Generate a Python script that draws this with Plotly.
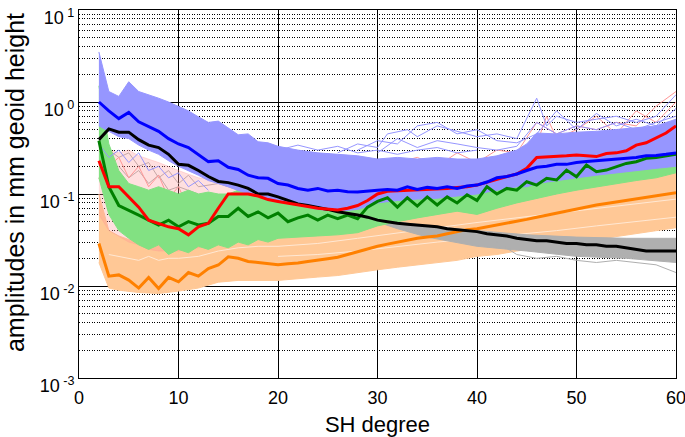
import plotly.graph_objects as go

deg = list(range(2, 61))

blue_mean = [1.0, 0.8, 0.66, 0.77, 0.61, 0.54, 0.48, 0.40, 0.35, 0.32, 0.27, 0.225, 0.23, 0.195, 0.185, 0.16,
             0.15, 0.148, 0.13, 0.125, 0.115, 0.11, 0.115, 0.108, 0.11, 0.106, 0.105, 0.108, 0.11, 0.112, 0.11,
             0.12, 0.112, 0.118, 0.115, 0.12, 0.115, 0.122, 0.125, 0.135, 0.15, 0.155, 0.165, 0.18, 0.195, 0.2,
             0.21, 0.21, 0.22, 0.225, 0.23, 0.232, 0.24, 0.245, 0.25, 0.26, 0.262, 0.27, 0.28]
red_mean = [0.23, 0.12, 0.12, 0.093, 0.072, 0.052, 0.048, 0.044, 0.042, 0.036, 0.044, 0.048, 0.07, 0.1, 0.1,
            0.1, 0.095, 0.087, 0.083, 0.08, 0.077, 0.073, 0.07, 0.068, 0.067, 0.07, 0.075, 0.085, 0.1, 0.107,
            0.108, 0.11, 0.11, 0.113, 0.112, 0.115, 0.118, 0.12, 0.125, 0.135, 0.145, 0.155, 0.165, 0.19, 0.25,
            0.252, 0.255, 0.26, 0.265, 0.26, 0.255, 0.275, 0.28, 0.295, 0.34, 0.36, 0.41, 0.46, 0.55]
green_mean = [0.38, 0.12, 0.075, 0.067, 0.059, 0.052, 0.046, 0.052, 0.044, 0.05, 0.046, 0.048, 0.057, 0.057,
              0.07, 0.057, 0.064, 0.055, 0.062, 0.05, 0.055, 0.059, 0.052, 0.059, 0.054, 0.059, 0.054, 0.072,
              0.083, 0.091, 0.072, 0.091, 0.074, 0.093, 0.076, 0.093, 0.08, 0.098, 0.085, 0.12, 0.1, 0.115,
              0.11, 0.136, 0.125, 0.148, 0.142, 0.182, 0.154, 0.207, 0.175, 0.182, 0.198, 0.215, 0.224, 0.244,
              0.25, 0.26, 0.27]
black_mean = [0.39, 0.51, 0.47, 0.47, 0.39, 0.34, 0.32, 0.27, 0.21, 0.205, 0.18, 0.155, 0.137, 0.133, 0.125,
              0.115, 0.1, 0.1, 0.093, 0.085, 0.078, 0.075, 0.072, 0.068, 0.064, 0.062, 0.059, 0.056, 0.052,
              0.05, 0.048, 0.047, 0.046, 0.045, 0.044, 0.042, 0.041, 0.04, 0.039, 0.037, 0.036, 0.035, 0.033,
              0.032, 0.031, 0.031, 0.03, 0.029, 0.029, 0.028, 0.028, 0.027, 0.027, 0.026, 0.025, 0.024, 0.024,
              0.024, 0.024]
orange_mean = [0.029, 0.0128, 0.0132, 0.0116, 0.0095, 0.0124, 0.0094, 0.0124, 0.0111, 0.014, 0.0128, 0.0155,
               0.0169, 0.0208, 0.02, 0.0185, 0.018, 0.0175, 0.017, 0.0175, 0.0178, 0.0185, 0.019, 0.0198,
               0.0205, 0.022, 0.0235, 0.025, 0.027, 0.0285, 0.03, 0.031, 0.033, 0.034, 0.035, 0.037, 0.039,
               0.041, 0.042, 0.044, 0.046, 0.048, 0.05, 0.053, 0.056, 0.059, 0.062, 0.066, 0.069, 0.072, 0.076,
               0.079, 0.082, 0.085, 0.089, 0.092, 0.096, 0.1, 0.103]

# ensemble envelopes
blue_bx = [2, 3, 4, 5, 6, 7, 8, 9, 10, 11, 12, 13, 14, 15, 16, 17, 18, 19, 20, 22, 24, 26, 28, 30, 32, 34,
           36, 38, 40, 42, 44, 45, 46, 48, 50, 52, 54, 56, 58, 60]
blue_up = [3.5, 1.3, 1.15, 1.66, 1.3, 1.2, 1.1, 1.0, 0.9, 0.8, 0.69, 0.6, 0.62, 0.52, 0.44, 0.45, 0.37, 0.36,
           0.33, 0.3, 0.28, 0.27, 0.26, 0.24, 0.25, 0.24, 0.25, 0.24, 0.24, 0.26, 0.3, 0.35, 0.46, 0.45, 0.47,
           0.48, 0.5, 0.52, 0.55, 0.65]
blue_lo = [0.55, 0.48, 0.42, 0.4, 0.34, 0.3, 0.27, 0.23, 0.2, 0.18, 0.16, 0.14, 0.13, 0.12, 0.11, 0.1, 0.095,
           0.09, 0.085, 0.075, 0.068, 0.065, 0.068, 0.08, 0.085, 0.088, 0.09, 0.095, 0.1, 0.11, 0.12, 0.12,
           0.13, 0.14, 0.15, 0.16, 0.17, 0.18, 0.19, 0.2]

pink_bx = [2, 3, 4, 5, 6, 7, 8, 10, 12, 14, 16, 18, 20, 25, 30, 35, 40, 45, 50, 55, 60]
pink_up = [0.35, 0.3, 0.28, 0.3, 0.26, 0.24, 0.22, 0.18, 0.15, 0.14, 0.13, 0.12, 0.11, 0.1, 0.13, 0.15,
           0.18, 0.3, 0.35, 0.4, 0.6]
pink_lo = [0.06, 0.04, 0.035, 0.03, 0.028, 0.025, 0.024, 0.024, 0.026, 0.03, 0.035, 0.04, 0.045, 0.05, 0.06,
           0.08, 0.1, 0.12, 0.14, 0.16, 0.2]

green_bx = [2, 3, 4, 5, 6, 7, 8, 9, 10, 11, 12, 13, 14, 15, 16, 17, 18, 19, 20, 22, 24, 26, 27, 28, 30, 32,
            34, 36, 38, 40, 42, 44, 46, 48, 50, 52, 54, 56, 58, 60]
green_up = [1.5, 0.35, 0.18, 0.13, 0.12, 0.11, 0.12, 0.11, 0.1, 0.11, 0.1, 0.105, 0.1, 0.1, 0.11, 0.1, 0.1,
            0.095, 0.1, 0.09, 0.09, 0.095, 0.15, 0.12, 0.15, 0.13, 0.13, 0.13, 0.14, 0.15, 0.17, 0.2, 0.22,
            0.24, 0.26, 0.28, 0.3, 0.32, 0.35, 0.4]
green_lo = [0.15, 0.06, 0.04, 0.033, 0.028, 0.025, 0.028, 0.022, 0.025, 0.023, 0.027, 0.025, 0.028, 0.026,
            0.03, 0.028, 0.032, 0.03, 0.033, 0.034, 0.035, 0.036, 0.037, 0.038, 0.045, 0.05, 0.055, 0.06,
            0.065, 0.06, 0.07, 0.08, 0.09, 0.1, 0.11, 0.12, 0.13, 0.14, 0.15, 0.17]

orange_bx = [2, 3, 4, 5, 6, 8, 10, 12, 14, 16, 18, 20, 22, 24, 26, 28, 30, 32, 34, 36, 38, 40, 42, 44, 46,
             48, 50, 52, 54, 56, 58, 60]
orange_up = [0.1, 0.04, 0.035, 0.032, 0.03, 0.028, 0.028, 0.028, 0.03, 0.032, 0.033, 0.034, 0.036, 0.038,
             0.04, 0.044, 0.048, 0.053, 0.056, 0.061, 0.066, 0.07, 0.076, 0.083, 0.09, 0.1, 0.11, 0.12, 0.13,
             0.14, 0.155, 0.175]
orange_lo = [0.018, 0.0095, 0.009, 0.0088, 0.0085, 0.0083, 0.0088, 0.0095, 0.011, 0.0115, 0.0115, 0.0115,
             0.012, 0.0125, 0.013, 0.014, 0.015, 0.016, 0.017, 0.018, 0.019, 0.021, 0.022, 0.024, 0.026, 0.028,
             0.03, 0.032, 0.034, 0.037, 0.04, 0.043]
# paler members visible inside the orange ensemble
orange_pale = [
    ([3, 4, 5, 6, 7, 8, 9, 10, 12, 14, 16, 18, 20, 24, 28, 32, 36, 40, 44, 48, 52, 56, 60],
     [0.022, 0.021, 0.02, 0.019, 0.021, 0.019, 0.02, 0.02, 0.021, 0.024, 0.026, 0.027, 0.027, 0.029, 0.033,
      0.038, 0.043, 0.049, 0.055, 0.062, 0.07, 0.078, 0.088]),
    ([20, 24, 28, 32, 36, 40, 44, 48, 52, 56, 60],
     [0.021, 0.022, 0.024, 0.027, 0.03, 0.033, 0.036, 0.04, 0.045, 0.05, 0.056]),
]

gray_bx = [29, 32, 35, 40, 45, 50, 55, 60]
gray_up = [0.055, 0.05, 0.045, 0.04, 0.036, 0.034, 0.033, 0.033]
gray_lo = [0.054, 0.042, 0.034, 0.027, 0.024, 0.021, 0.02, 0.018]

# individual visible ensemble members
blue_lines = [
    ([26, 28, 30, 31, 33, 34, 36, 38, 40, 42, 44, 46, 47, 48, 50, 52, 54, 56, 58, 60],
     [0.28, 0.35, 0.32, 0.45, 0.5, 0.42, 0.55, 0.48, 0.42, 0.45, 0.4, 1.1, 0.55, 0.7, 0.6, 0.65, 0.7, 0.6, 0.7, 1.2]),
    ([28, 30, 32, 34, 36, 38, 40, 42, 44, 46, 48, 50, 52, 54, 56, 58, 60],
     [0.3, 0.38, 0.35, 0.55, 0.6, 0.45, 0.5, 0.38, 0.36, 0.45, 0.8, 0.5, 0.75, 0.55, 0.65, 0.55, 0.85]),
    ([30, 32, 34, 36, 38, 40, 42, 44, 46, 48, 50, 52, 54, 56, 58, 60],
     [0.28, 0.4, 0.32, 0.38, 0.35, 0.32, 0.3, 0.33, 0.6, 0.45, 0.55, 0.5, 0.6, 0.5, 0.6, 0.7]),
    ([20, 22, 24, 26, 28, 30, 32, 34, 36, 38, 40],
     [0.3, 0.34, 0.3, 0.33, 0.28, 0.3, 0.27, 0.3, 0.32, 0.28, 0.3]),
    ([2, 3, 4, 5, 6, 7, 8, 9, 10, 11, 12, 13],
     [0.35, 0.25, 0.3, 0.22, 0.28, 0.18, 0.2, 0.15, 0.17, 0.12, 0.14, 0.11]),
]
pink_lines = [
    ([2, 3, 4, 5, 6, 7, 8, 9, 10, 11, 12, 13, 14, 15, 16, 18, 20],
     [0.3, 0.2, 0.25, 0.15, 0.2, 0.12, 0.16, 0.09, 0.12, 0.07, 0.09, 0.06, 0.08, 0.07, 0.09, 0.1, 0.09]),
    ([2, 3, 4, 5, 6, 7, 8, 9, 10, 11, 12, 13, 14, 15, 16, 18, 20],
     [0.15, 0.08, 0.1, 0.05, 0.07, 0.035, 0.05, 0.028, 0.04, 0.025, 0.035, 0.03, 0.04, 0.035, 0.05, 0.06, 0.055]),
    ([30, 32, 34, 36, 38, 40, 42, 44, 46, 48, 50, 52, 54, 56, 58, 60],
     [0.18, 0.22, 0.25, 0.2, 0.28, 0.22, 0.3, 0.28, 0.6, 0.45, 0.55, 0.5, 0.6, 0.55, 0.9, 1.3]),
    ([40, 42, 44, 46, 47, 48, 50, 52, 54, 56, 58, 60],
     [0.2, 0.22, 0.25, 0.35, 0.7, 0.4, 0.5, 0.7, 0.45, 0.8, 0.6, 1.0]),
]
gray_lines = [
    ([3, 4, 5, 6, 7, 8, 9, 10, 11, 12, 14, 16, 18, 20],
     [0.3, 0.25, 0.28, 0.2, 0.22, 0.15, 0.18, 0.13, 0.16, 0.12, 0.13, 0.11, 0.1, 0.09]),
    ([4, 5, 6, 7, 8, 9, 10, 12],
     [0.2, 0.15, 0.18, 0.13, 0.16, 0.11, 0.12, 0.1]),
    ([42, 44, 46, 48, 50, 52, 54, 56, 58, 60],
     [0.03, 0.022, 0.02, 0.021, 0.019, 0.018, 0.019, 0.018, 0.017, 0.014]),
]

fig = go.Figure()


def band(xs, up, lo, color):
    fig.add_trace(go.Scatter(x=xs + xs[::-1], y=up + lo[::-1], fill="toself", fillcolor=color,
                             line=dict(color=color, width=1), mode="lines", hoverinfo="skip",
                             showlegend=False))


def thin(xs, ys, color):
    fig.add_trace(go.Scatter(x=xs, y=ys, mode="lines", line=dict(color=color, width=1),
                             showlegend=False, hoverinfo="skip"))


band(orange_bx, orange_up, orange_lo, "rgb(255,200,150)")
for xs, ys in orange_pale:
    thin(xs, ys, "rgb(255,232,212)")
band(gray_bx, gray_up, gray_lo, "rgb(175,175,175)")
for xs, ys in gray_lines:
    thin(xs, ys, "rgb(175,175,175)")
band(pink_bx, pink_up, pink_lo, "rgba(255,150,150,0.3)")
for xs, ys in pink_lines:
    thin(xs, ys, "rgb(255,150,150)")
band(green_bx, green_up, green_lo, "rgb(130,225,130)")
band(blue_bx, blue_up, blue_lo, "rgb(150,150,255)")
for xs, ys in blue_lines:
    thin(xs, ys, "rgb(150,150,255)")

for ys, col in [(orange_mean, "rgb(255,128,0)"), (green_mean, "rgb(0,128,0)"), (black_mean, "black"),
                (red_mean, "rgb(255,0,0)"), (blue_mean, "rgb(0,0,255)")]:
    fig.add_trace(go.Scatter(x=deg, y=ys, mode="lines", line=dict(color=col, width=3),
                             showlegend=False))

ytick_vals = [1e-3, 1e-2, 1e-1, 1e0, 1e1]
ytick_text = ["10<sup> -3</sup>", "10<sup> -2</sup>", "10<sup> -1</sup>", "10<sup> 0</sup>", "10<sup> 1</sup>"]
minor_vals = [m * 10.0 ** e for e in range(-3, 1) for m in range(2, 10)]

font = "Liberation Sans, Arial, sans-serif"
fig.update_layout(
    width=685, height=437,
    margin=dict(l=79, r=9, t=10, b=59),
    plot_bgcolor="white", paper_bgcolor="white",
    font=dict(family=font, size=18, color="black"),
    xaxis=dict(range=[0, 60], tickvals=[0, 10, 20, 30, 40, 50, 60], showgrid=True, gridcolor="black",
               gridwidth=1, showline=True, linecolor="black", linewidth=1, mirror=True, zeroline=False,
               ticks="", automargin=False, ticklabeloverflow="allow", ticklabelstandoff=3,
               title=dict(text="SH degree", font=dict(size=22), standoff=10),
               tickfont=dict(size=18)),
    yaxis=dict(type="log", range=[-3, 1], tickvals=ytick_vals, ticktext=ytick_text, showgrid=True,
               gridcolor="black", gridwidth=1, showline=True, linecolor="black", linewidth=1, mirror=True,
               zeroline=False, ticks="", automargin=False, ticklabeloverflow="allow", ticklabelshift=8,
               minor=dict(tickvals=minor_vals, showgrid=True, gridcolor="black", griddash="1px,1.5px",
                          gridwidth=1, ticks=""),
               tickfont=dict(size=18)),
    annotations=[dict(text="amplitudes in mm geoid height", textangle=-90, xref="paper", yref="paper",
                      x=-0.107, y=0.53, showarrow=False, font=dict(size=25),
                      xanchor="center", yanchor="middle")],
)

fig.write_html("out.html", config={"displayModeBar": False},
               post_script="document.body.style.margin='0';")
